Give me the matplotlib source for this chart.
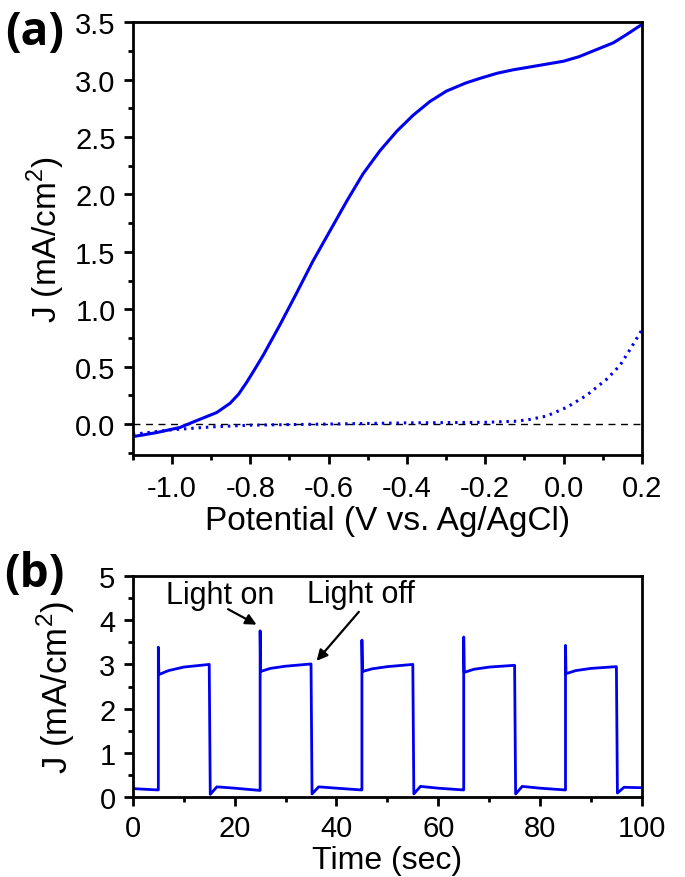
import matplotlib

matplotlib.use("Agg")
import matplotlib.pyplot as plt
import numpy as np
from matplotlib.ticker import MultipleLocator

# (a) linear sweep voltammetry
V_light = [-1.1, -1.04, -0.98, -0.937, -0.886, -0.852, -0.83, -0.81, -0.79,
           -0.767, -0.725, -0.682, -0.64, -0.597, -0.554, -0.512, -0.469,
           -0.426, -0.384, -0.341, -0.299, -0.25, -0.214, -0.17, -0.129,
           -0.06, 0.0, 0.04, 0.076, 0.127, 0.16, 0.2]
J_light = [-0.11, -0.075, -0.03, 0.03, 0.10, 0.18, 0.26, 0.36, 0.47, 0.60,
           0.86, 1.14, 1.42, 1.68, 1.94, 2.18, 2.38, 2.55, 2.69, 2.81, 2.90,
           2.97, 3.01, 3.055, 3.085, 3.125, 3.16, 3.2, 3.25, 3.32, 3.39, 3.48]
V_dark = [-1.1, -1.0, -0.9, -0.8, -0.6, -0.4, -0.2, -0.12, -0.086, -0.043,
          0.008, 0.059, 0.11, 0.144, 0.17, 0.2]
J_dark = [-0.09, -0.05, -0.025, -0.01, 0.0, 0.01, 0.015, 0.025, 0.04, 0.07,
          0.145, 0.25, 0.39, 0.51, 0.65, 0.82]

# (b) chopped light transient
t_on = [5, 25, 45, 65, 85]
t_off = [15, 35, 55, 75, 95]
spike = [3.39, 3.76, 3.55, 3.62, 3.43]
plateau_dt = [0.1, 2, 5, 10]
plateau = [[2.77, 2.86, 2.94, 3.00],
           [2.84, 2.91, 2.96, 3.01],
           [2.84, 2.90, 2.95, 3.00],
           [2.82, 2.89, 2.94, 2.98],
           [2.79, 2.86, 2.91, 2.95]]
dark_dt = [0.2, 1.5, 5, 9.9]
dark = [[0.06, 0.23, 0.20, 0.15],
        [0.07, 0.23, 0.20, 0.16],
        [0.07, 0.24, 0.20, 0.16],
        [0.07, 0.24, 0.20, 0.16],
        [0.09, 0.22, 0.21, 0.21]]
t_start = [0, 4.9]
J_start = [0.19, 0.16]

BLUE = "#0000EE"
FONT = ["Liberation Sans", "DejaVu Sans"]

plt.rcParams["font.family"] = FONT
plt.rcParams["mathtext.fontset"] = "custom"
plt.rcParams["mathtext.rm"] = "Liberation Sans"

# assemble the transient trace from the read values
t_trace = list(t_start)
J_trace = list(J_start)
for k in range(len(t_on)):
    t_trace += [t_on[k], t_on[k]]
    J_trace += [J_trace[-1], spike[k]]
    t_trace += [t_on[k] + dt for dt in plateau_dt]
    J_trace += plateau[k]
    t_trace += [t_off[k] + dt for dt in dark_dt]
    J_trace += dark[k]

fig = plt.figure(figsize=(6.85, 8.78), dpi=100)
ax1 = fig.add_axes([0.194, 0.4806, 0.743, 0.493])
ax2 = fig.add_axes([0.194, 0.0911, 0.743, 0.2517])

ax1.axhline(0, color="black", lw=1.0, ls=(0, (5, 4)))
ax1.plot(V_light, J_light, color=BLUE, lw=2.2)
ax1.plot(V_dark, J_dark, color=BLUE, lw=2.2, ls=(0, (0.8, 1.6)))
ax1.set_xlim(-1.1, 0.2)
ax1.set_ylim(-0.27, 3.5)
ax1.xaxis.set_minor_locator(MultipleLocator(0.1))
ax1.yaxis.set_major_locator(MultipleLocator(0.5))
ax1.yaxis.set_minor_locator(MultipleLocator(0.25))
xt = np.round(np.arange(-1.0, 0.21, 0.2), 1)
ax1.set_xticks(xt)
ax1.set_xticklabels([f"{v:.1f}" if v != 0 else "0.0" for v in xt])
ax1.set_xlabel("Potential (V vs. Ag/AgCl)", fontsize=24)
ax1.xaxis.set_label_coords(0.5, -0.115)
ax1.xaxis.label.set_va("top")
ax1.set_ylabel("J (mA/cm$^2$)", fontsize=24)
ax1.yaxis.set_label_coords(-0.13, 0.5)

ax2.plot(t_trace, J_trace, color=BLUE, lw=2.0)
ax2.set_xlim(0, 100)
ax2.set_ylim(0, 5)
ax2.xaxis.set_major_locator(MultipleLocator(20))
ax2.xaxis.set_minor_locator(MultipleLocator(10))
ax2.yaxis.set_major_locator(MultipleLocator(1))
ax2.yaxis.set_minor_locator(MultipleLocator(0.5))
ax2.set_xlabel("Time (sec)", fontsize=23)
ax2.xaxis.set_label_coords(0.5, -0.215)
ax2.xaxis.label.set_va("top")
ax2.set_ylabel("J (mA/cm$^2$)", fontsize=25)
ax2.yaxis.set_label_coords(-0.11, 0.5)

ax2.text(17.1, 4.57, "Light on", fontsize=22, ha="center", va="center")
ax2.text(44.9, 4.6, "Light off", fontsize=22, ha="center", va="center")
arrow = dict(arrowstyle="-|>", color="black", lw=1.6, mutation_scale=16,
             shrinkA=0, shrinkB=0)
ax2.annotate("", xy=(24.3, 3.9), xytext=(18.7, 4.25), arrowprops=arrow)
ax2.annotate("", xy=(36.1, 3.08), xytext=(44.4, 4.19), arrowprops=arrow)

for ax in (ax1, ax2):
    for spine in ax.spines.values():
        spine.set_linewidth(2.0)
    ax.tick_params(which="both", direction="out", top=False, right=False, width=2.0)
    ax.tick_params(which="major", length=6.5)
    ax.tick_params(which="minor", length=3.8)

ax1.tick_params(axis="both", labelsize=21)
ax1.tick_params(axis="x", pad=7)
ax1.tick_params(axis="y", pad=6)
ax2.tick_params(axis="both", labelsize=21)
ax2.tick_params(axis="x", pad=6)
ax2.tick_params(axis="y", pad=6)

fig.text(0.008, 0.99, "(a)", fontsize=33, fontweight="bold",
         family=["Open Sans", "DejaVu Sans"], ha="left", va="top")
fig.text(0.006, 0.372, "(b)", fontsize=33, fontweight="bold",
         family=["Open Sans", "DejaVu Sans"], ha="left", va="top")

fig.savefig("out.png", dpi=100)
